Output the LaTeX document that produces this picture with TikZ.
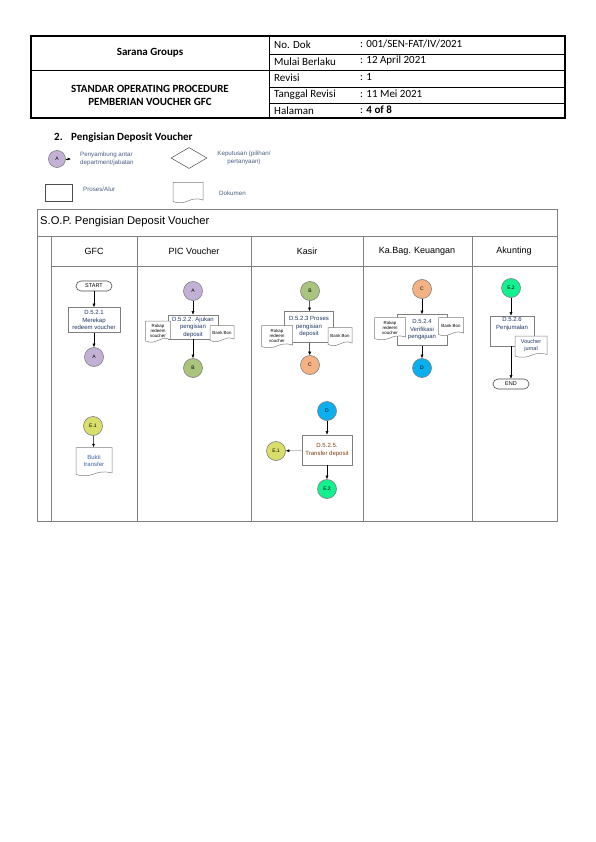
\documentclass[tikz,border=0pt]{standalone}
\usepackage{fontspec}
\setmainfont{Liberation Sans}
\newfontfamily\calfont{Carlito}
\usetikzlibrary{arrows.meta,calc,shapes.geometric}
\definecolor{cA}{HTML}{C3B1D5}
\definecolor{cB}{HTML}{A9C47C}
\definecolor{cC}{HTML}{F4B183}
\definecolor{cD}{HTML}{0AB0EE}
\definecolor{cE1}{HTML}{D9DE6B}
\definecolor{cE2}{HTML}{12F08F}
\definecolor{edge}{HTML}{7F7F7F}
\definecolor{lane}{HTML}{808080}
\definecolor{txtblue}{HTML}{1F3864}
\definecolor{txtlblue}{HTML}{3B64A6}
\definecolor{legtxt}{HTML}{4A5F82}
\definecolor{txtbrown}{HTML}{843C0C}
\newcommand\fs[2]{\fontsize{#1}{#2}\selectfont}
\tikzset{
 hdr/.style={font=\calfont\fs{11}{13}, inner sep=0pt},
 hdrb/.style={font=\calfont\bfseries\fs{11}{13}, inner sep=0pt, align=center},
 conn/.style={circle, draw=edge, line width=0.6pt, minimum size=19pt, inner sep=0pt, font=\fs{5}{6}},
 proc/.style={draw=edge, line width=0.6pt, fill=white, inner sep=1pt, align=center, font=\fs{6}{7.5}, text=txtblue},
 term/.style={draw=black!70, line width=0.6pt, fill=white, rounded corners=5pt, minimum width=36pt, minimum height=10pt, inner sep=0pt, font=\fs{5.5}{6}},
 arr/.style={-{Latex[length=3.5pt,width=3pt]}, line width=0.5pt},
 doctext/.style={align=center, inner sep=0pt, font=\fs{4.4}{5.2}},
 docline/.style={draw=edge, line width=0.5pt, fill=white},
 laneline/.style={draw=lane, line width=0.9pt},
 legtext/.style={font=\fs{6.2}{7.5}, text=legtxt, inner sep=0pt, align=left},
 lanehead/.style={font=\fs{9}{10}, inner sep=0pt},
}
% opts, name, x, y, w, h, text
\newcommand\docnode[7][]{%
  \filldraw[docline] (#3-#5/2,#4+#6/2) -- (#3-#5/2,#4-#6/2) -- (#3+#5/2,#4-#6/2) -- (#3+#5/2,#4+#6/2-1.5)
    .. controls (#3,#4+#6/2-6) and (#3,#4+#6/2+5) .. (#3-#5/2,#4+#6/2) -- cycle;
  \node[doctext, minimum width=#5pt, minimum height=#6pt, #1] (#2) at (#3,#4) {#7};
}
\begin{document}
\begin{tikzpicture}[x=1pt,y=-1pt]
\useasboundingbox[fill=white] (0,0) rectangle (595,842);

% ---------- header table ----------
\draw[line width=1.1pt] (31,36) rectangle (565,118);
\draw[line width=0.6pt] (269,36) -- (269,118);
\draw[line width=0.6pt] (269,54) -- (565,54);
\draw[line width=0.6pt] (31,70) -- (565,70);
\draw[line width=0.6pt] (269,87) -- (565,87);
\draw[line width=0.6pt] (269,103) -- (565,103);
\node[hdrb] (hsg) at (150,53) {Sarana Groups};
\node[hdrb] (hsop) at (150,95) {STANDAR OPERATING PROCEDURE\\PEMBERIAN VOUCHER GFC};
\node[hdr, anchor=west] (l1) at (274,45) {No. Dok};
\node[hdr, anchor=west] (l2) at (274,62) {Mulai Berlaku};
\node[hdr, anchor=west] (l3) at (274,78) {Revisi};
\node[hdr, anchor=west] (l4) at (274,95) {Tanggal Revisi};
\node[hdr, anchor=west] (l5) at (274,111) {Halaman};
\node[hdr, anchor=west] (v1) at (360,44) {: 001/SEN-FAT/IV/2021};
\node[hdr, anchor=west] (v2) at (360,61) {: 12 April 2021};
\node[hdr, anchor=west] (v3) at (360,77) {: 1};
\node[hdr, anchor=west] (v4) at (360,94) {: 11 Mei 2021};
\node[hdr, anchor=west] (v5) at (360,110) {: \textbf{4 of 8}};

% ---------- section title ----------
\node[hdrb, anchor=west] (sec) at (54,138) {2.\hspace{8.5pt}Pengisian Deposit Voucher};

% ---------- legend ----------
\node[conn, fill=cA, minimum size=17pt] (lA) at (57,159) {A};
\coordinate (lAend) at (71,159);
\draw[arr] (lA) -- (lAend);
\node[legtext, anchor=west] (lAt) at (80,159) {Penyambung antar\\department/jabatan};
\node[diamond, draw=black!70, line width=0.5pt, minimum width=36pt, minimum height=21pt, inner sep=0pt, aspect=1.7] (ldia) at (189,158) {};
\node[legtext, align=center] (ldiat) at (244,158) {Keputusan (pilihan/\\pertanyaan)};
\node[draw=black!70, line width=0.5pt, minimum width=27pt, minimum height=17pt, inner sep=0pt] (lrect) at (58.5,192.5) {};
\node[legtext, anchor=west] (lrectt) at (83,189) {Proses/Alur};
\docnode[]{ldoc}{188}{192}{30}{19}{}
\node[legtext, anchor=west] (ldoct) at (219,193) {Dokumen};

% ---------- swimlane frame ----------
\draw[laneline] (37,209) rectangle (557,521);
\draw[laneline] (37,236) -- (557,236);
\draw[laneline] (51,266) -- (557,266);
\foreach \xx in {51,137,251,363,472} \draw[laneline] (\xx,236) -- (\xx,521);
\node[font=\fs{11.2}{13}, anchor=west, inner sep=0pt] (soptitle) at (40,222) {S.O.P. Pengisian Deposit Voucher};
\node[lanehead] (h1) at (94,251) {GFC};
\node[lanehead] (h2) at (194,251) {PIC Voucher};
\node[lanehead] (h3) at (307,251) {Kasir};
\node[lanehead] (h4) at (417,251) {Ka.Bag. Keuangan};
\node[lanehead] (h5) at (514,251) {Akunting};

% ---------- GFC ----------
\node[term] (gstart) at (94,286) {START};
\node[proc, minimum width=52pt, minimum height=25pt] (g1) at (94,320) {D.5.2.1\\Merekap\\redeem voucher};
\node[conn, fill=cA] (gA) at (94,357) {A};
\draw[arr] (gstart) -- (g1);
\draw[arr] (g1) -- (gA);
\node[conn, fill=cE1] (gE1) at (93,426) {E.1};
\docnode[font=\fs{6}{7.5}, text=txtlblue]{gdoc}{94}{461}{36}{27}{Bukti\\transfer}
\draw[arr] (gE1) -- (gdoc);

% ---------- PIC Voucher ----------
\node[conn, fill=cA] (pA) at (193,291) {A};
\node[proc, minimum width=50pt, minimum height=24pt] (p1) at (193,327) {D.5.2.2. Ajukan\\pengisian\\deposit};
\docnode[]{pdL}{158}{331}{25}{20}{Rakap\\redeem\\voucher}
\docnode[]{pdR}{222}{333}{24}{15}{Bank Bon}
\node[conn, fill=cB] (pB) at (193,368) {B};
\draw[arr] (pA) -- (p1);
\draw[arr] (p1) -- (pB);

% ---------- Kasir ----------
\node[conn, fill=cB] (kB) at (310,291) {B};
\node[proc, minimum width=49pt, minimum height=31pt] (k1) at (309,327) {D.5.2.3 Proses\\pengisian\\deposit};
\docnode[]{kdL}{277}{336}{31}{21}{Rakap\\redeem\\voucher}
\docnode[]{kdR}{340}{336}{24}{17}{Bank Bon}
\node[conn, fill=cC] (kC) at (310,365) {C};
\draw[arr] (kB) -- (k1);
\draw[arr] (k1) -- (kC);

\node[conn, fill=cD] (kD) at (327,411) {D};
\node[proc, minimum width=50pt, minimum height=30pt, text=txtbrown] (k2) at (327,450) {D.5.2.5.\\Transfer deposit};
\node[conn, fill=cE1] (kE1) at (276,451) {E.1};
\node[conn, fill=cE2] (kE2) at (327,489) {E.2};
\draw[arr] (kD) -- (k2);
\draw[arr] (k2) -- (kE2);
\draw[arr, draw=black!35, -{Latex[length=3.5pt,width=3pt,black]}] (k2) -- (kE1);

% ---------- Ka.Bag. Keuangan ----------
\node[conn, fill=cC] (bC) at (422,289) {C};
\node[proc, minimum width=50pt, minimum height=31pt] (b1) at (422,330) {D.5.2.4\\Verifikasi\\pengajuan};
\docnode[]{bdL}{390}{328}{31}{21}{Rakap\\redeem\\voucher}
\docnode[]{bdR}{451}{326}{25}{17}{Bank Bon}
\node[conn, fill=cD] (bD) at (422,368) {D};
\draw[arr] (bC) -- (b1);
\draw[arr] (b1) -- (bD);

% ---------- Akunting ----------
\node[conn, fill=cE2] (aE2) at (511,288) {E.2};
\node[proc, minimum width=44pt, minimum height=30pt] (a1) at (512,331) {D.5.2.6\\Penjumalan\\~\\~};
\docnode[font=\fs{5.5}{7}, text=txtblue]{adoc}{531}{346}{32}{20}{Voucher\\jurnal}
\node[term] (aend) at (511,384) {END};
\draw[arr] (aE2) -- (aE2 |- a1.north);
\draw[arr] (a1.south -| aend) -- (aend);
\end{tikzpicture}
\end{document}
